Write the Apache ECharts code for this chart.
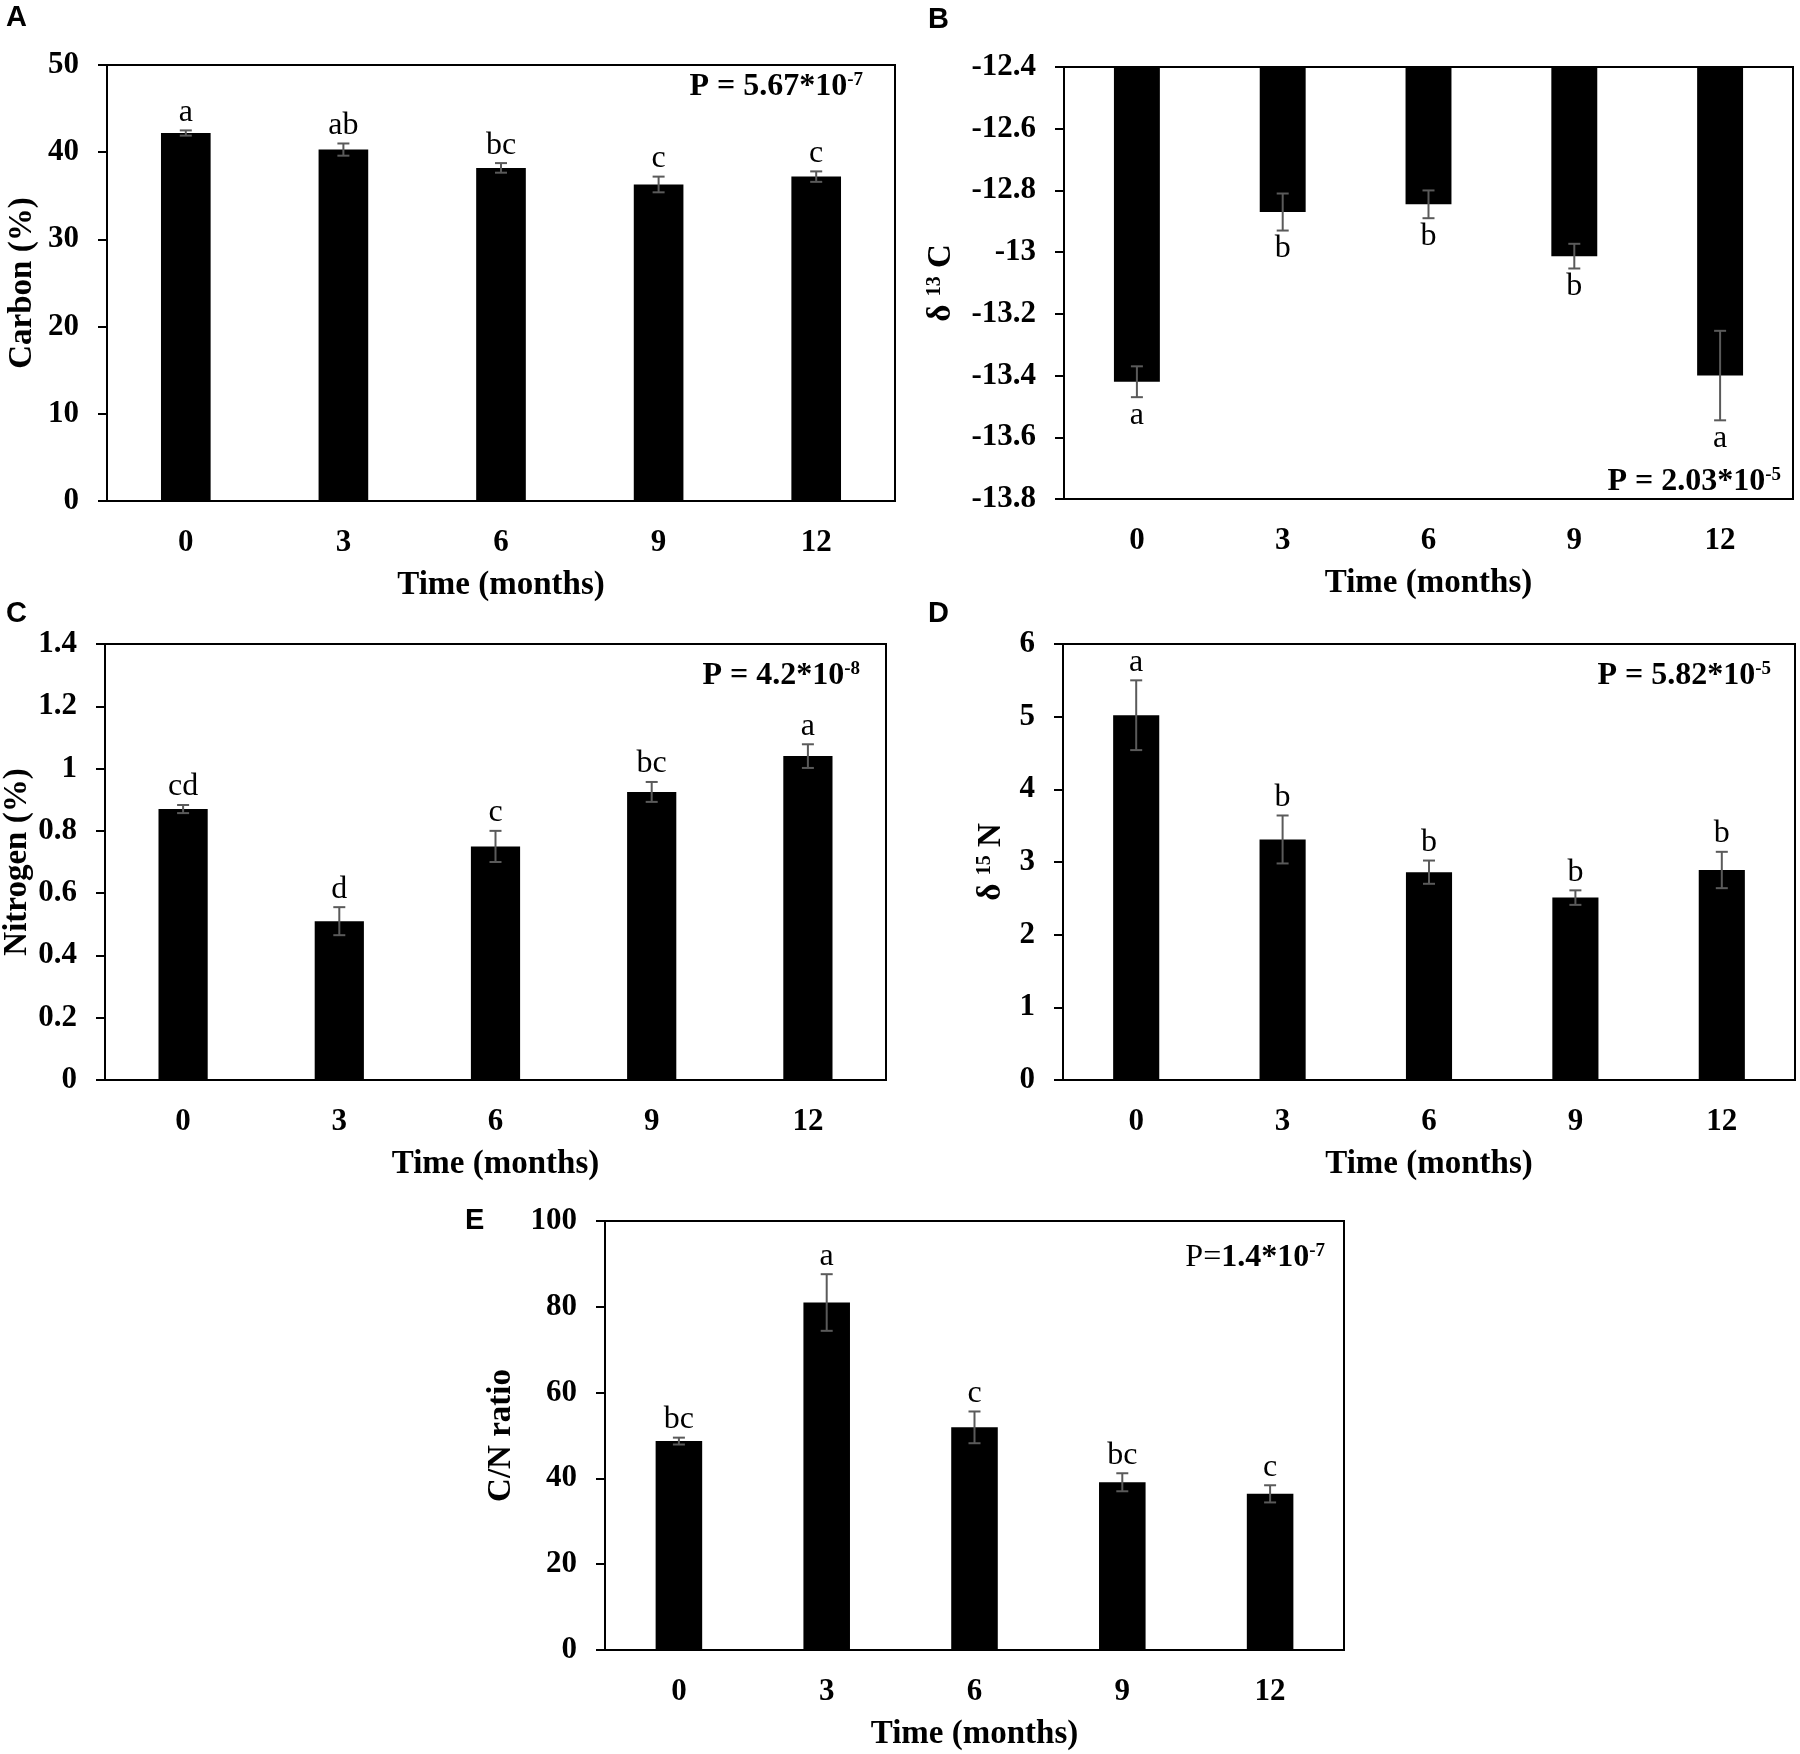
<!DOCTYPE html>
<html><head><meta charset="utf-8">
<script src="https://cdn.jsdelivr.net/npm/echarts@6/dist/echarts.min.js"></script>
<style>html,body{margin:0;padding:0;background:#fff}#c{width:1800px;height:1754px}</style>
</head><body><div id="c"></div><script>
// ---- data ----
const months = ['0', '3', '6', '9', '12'];

const carbonMean = [42.2, 40.3, 38.2, 36.3, 37.2];
const carbonErr = [0.3, 0.7, 0.55, 0.9, 0.6];
const carbonLetters = ['a', 'ab', 'bc', 'c', 'c'];

const d13cMean = [-13.42, -12.87, -12.845, -13.013, -13.40];
const d13cErr = [0.05, 0.06, 0.045, 0.04, 0.145];
const d13cLetters = ['a', 'b', 'b', 'b', 'a'];

const nitrogenMean = [0.87, 0.51, 0.75, 0.925, 1.04];
const nitrogenErr = [0.013, 0.045, 0.05, 0.032, 0.038];
const nitrogenLetters = ['cd', 'd', 'c', 'bc', 'a'];

const d15nMean = [5.02, 3.31, 2.86, 2.51, 2.89];
const d15nErr = [0.48, 0.33, 0.16, 0.10, 0.25];
const d15nLetters = ['a', 'b', 'b', 'b', 'b'];

const cnMean = [48.7, 81.0, 51.9, 39.1, 36.4];
const cnErr = [0.8, 6.6, 3.7, 2.1, 2.0];
const cnLetters = ['bc', 'a', 'c', 'bc', 'c'];

// ---- layout ----
const SERIF = '"Liberation Serif","Times New Roman",serif';
const SANS = '"Liberation Sans",Arial,sans-serif';

const panels = [
  { tag: 'A', grid: { left: 107, top: 65, width: 788, height: 436 }, yMin: 0, yMax: 50, yInt: 10,
    name: 'Carbon (%)', nameGap: 68, mean: carbonMean, err: carbonErr, letters: carbonLetters, below: false,
    pText: '{b|P = 5.67*10}{s|-7}', pRight: 863, pY: 87, tagX: 6, tagY: 3 },
  { tag: 'B', grid: { left: 1064, top: 67, width: 729, height: 432 }, yMin: -13.8, yMax: -12.4, yInt: 0.2,
    name: '{n|δ }{s|13}{n| C}', nameGap: 106, mean: d13cMean, err: d13cErr, letters: d13cLetters, below: true,
    pText: '{b|P = 2.03*10}{s|-5}', pRight: 1781, pY: 482, tagX: 928, tagY: 5 },
  { tag: 'C', grid: { left: 103, top: 644, width: 783, height: 436 }, yMin: 0, yMax: 1.4, yInt: 0.2,
    name: 'Nitrogen (%)', nameGap: 71, mean: nitrogenMean, err: nitrogenErr, letters: nitrogenLetters, below: false,
    pText: '{b|P = 4.2*10}{s|-8}', pRight: 860, pY: 676, tagX: 6, tagY: 599 },
  { tag: 'D', grid: { left: 1063, top: 644, width: 732, height: 436 }, yMin: 0, yMax: 6, yInt: 1,
    name: '{n|δ }{s|15}{n| N}', nameGap: 55, mean: d15nMean, err: d15nErr, letters: d15nLetters, below: false,
    pText: '{b|P = 5.82*10}{s|-5}', pRight: 1771, pY: 676, tagX: 928, tagY: 599 },
  { tag: 'E', grid: { left: 605, top: 1221, width: 739, height: 429 }, yMin: 0, yMax: 100, yInt: 20,
    name: 'C/N ratio', nameGap: 87, mean: cnMean, err: cnErr, letters: cnLetters, below: false,
    pText: '{r|P=}{b|1.4*10}{s|-7}', pRight: 1325, pY: 1258, tagX: 465, tagY: 1206 }
];

const nameRich = {
  n: { fontFamily: SERIF, fontWeight: 'bold', fontSize: 33, color: '#000' },
  s: { fontFamily: SERIF, fontWeight: 'bold', fontSize: 20, color: '#000', verticalAlign: 'top' }
};
const pRich = {
  b: { fontFamily: SERIF, fontWeight: 'bold', fontSize: 32, color: '#000' },
  r: { fontFamily: SERIF, fontWeight: 'normal', fontSize: 32, color: '#000' },
  s: { fontFamily: SERIF, fontWeight: 'bold', fontSize: 19, color: '#000', verticalAlign: 'top' }
};

const grids = [], xAxes = [], yAxes = [], series = [], graphics = [];

panels.forEach((p, k) => {
  grids.push(Object.assign({ show: true, borderColor: '#000', borderWidth: 2, containLabel: false }, p.grid));
  xAxes.push({
    type: 'category', gridIndex: k, data: months,
    name: 'Time (months)', nameLocation: 'middle', nameGap: 68,
    nameTextStyle: { fontFamily: SERIF, fontWeight: 'bold', fontSize: 33, color: '#000' },
    axisLine: { show: true, onZero: false, lineStyle: { color: '#000', width: 2 } },
    axisTick: { show: false },
    axisLabel: { fontFamily: SERIF, fontWeight: 'bold', fontSize: 31, color: '#000', margin: 26 },
    splitLine: { show: false }
  });
  yAxes.push({
    type: 'value', gridIndex: k, min: p.yMin, max: p.yMax, interval: p.yInt, startValue: p.below ? p.yMax : 0,
    name: p.name, nameLocation: 'middle', nameGap: p.nameGap, nameRotate: 90,
    nameTextStyle: { fontFamily: SERIF, fontWeight: 'bold', fontSize: 33, color: '#000', rich: nameRich },
    axisLine: { show: true, lineStyle: { color: '#000', width: 2 } },
    axisTick: { show: true, inside: false, length: 9, lineStyle: { color: '#000', width: 2 } },
    axisLabel: { fontFamily: SERIF, fontWeight: 'bold', fontSize: 31, color: '#000', margin: 28 },
    splitLine: { show: false }
  });
  series.push({
    type: 'bar', xAxisIndex: k, yAxisIndex: k, data: p.mean, barWidth: '31.5%',
    itemStyle: { color: '#000' }, clip: true, silent: true, animation: false
  });
  const letters = p.letters, below = p.below;
  series.push({
    type: 'custom', xAxisIndex: k, yAxisIndex: k, z: 5, animation: false, silent: true,
    data: p.mean.map((v, i) => [i, v, p.err[i]]),
    renderItem: function (params, api) {
      const i = api.value(0), v = api.value(1), e = api.value(2);
      const hi = api.coord([i, v + e]), lo = api.coord([i, v - e]);
      const x = hi[0], cap = 6;
      const ls = { stroke: '#5a5a5a', lineWidth: 2 };
      return {
        type: 'group', children: [
          { type: 'line', shape: { x1: x, y1: hi[1], x2: x, y2: lo[1] }, style: ls },
          { type: 'line', shape: { x1: x - cap, y1: hi[1], x2: x + cap, y2: hi[1] }, style: ls },
          { type: 'line', shape: { x1: x - cap, y1: lo[1], x2: x + cap, y2: lo[1] }, style: ls },
          { type: 'text', style: {
              text: letters[params.dataIndex], x: x, y: below ? lo[1] + 2 : hi[1] - 2,
              align: 'center', verticalAlign: below ? 'top' : 'bottom',
              font: 'normal 32px ' + SERIF, fill: '#000' } }
        ]
      };
    }
  });
  graphics.push({
    type: 'text', x: p.pRight, y: p.pY, z: 10,
    style: { text: p.pText, rich: pRich, align: 'right', verticalAlign: 'middle' }
  });
  graphics.push({
    type: 'text', x: p.tagX, y: p.tagY, z: 10,
    style: { text: p.tag, font: 'bold 29px ' + SANS, fill: '#000', align: 'left', verticalAlign: 'top' }
  });
});

const chart = echarts.init(document.getElementById('c'));
chart.setOption({
  animation: false,
  backgroundColor: '#fff',
  grid: grids, xAxis: xAxes, yAxis: yAxes, series: series, graphic: graphics
});
</script></body></html>
